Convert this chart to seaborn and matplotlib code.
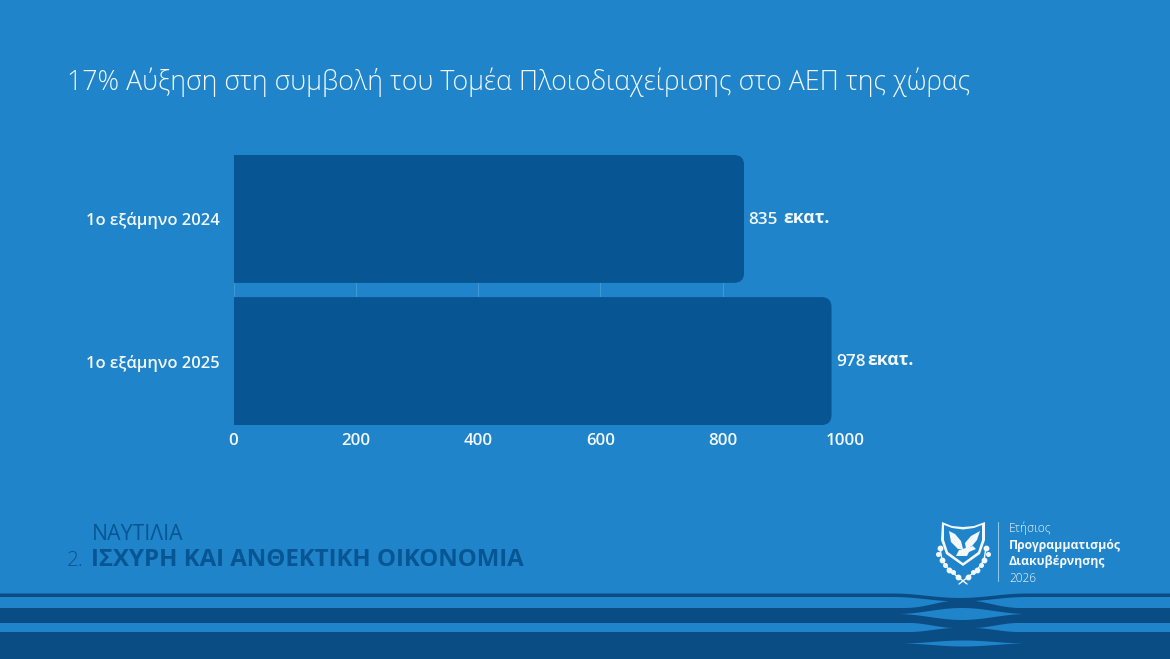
import numpy as np
import pandas as pd
import matplotlib
matplotlib.use('Agg')
import matplotlib.pyplot as plt
from matplotlib.patches import FancyBboxPatch, Polygon
import seaborn as sns

# values
periods = ['1ο εξάμηνο 2024', '1ο εξάμηνο 2025']
values = [835, 978]
x_ticks = [0, 200, 400, 600, 800, 1000]
title = '17% Αύξηση στη συμβολή του Τομέα Πλοιοδιαχείρισης στο ΑΕΠ της χώρας'
unit = 'εκατ.'

BG = '#1f84c9'
BAR = '#075693'
DARK = '#0a4c84'
WHITE = '#f2f8fc'
W, H = 1170, 659

sns.set_theme(style='white')
plt.rcParams['font.family'] = ['Open Sans', 'DejaVu Sans']

fig = plt.figure(figsize=(W / 100, H / 100), dpi=100, facecolor=BG)

# full slide axes in pixel coordinates, for the slide furniture
deco = fig.add_axes([0, 0, 1, 1], zorder=0)
deco.set_xlim(0, W)
deco.set_ylim(H, 0)
deco.axis('off')

deco.text(67, 82, title, color=WHITE, fontsize=19.3, fontweight='light', va='center', ha='left')

# footer heading
deco.text(92, 535, 'ΝΑΥΤΙΛΙΑ', color=BAR, fontsize=15.3, va='center')
deco.text(67, 561, '2.', color=BAR, fontsize=15, fontweight='light', va='center')
deco.text(91, 560.5, 'ΙΣΧΥΡΗ ΚΑΙ ΑΝΘΕΚΤΙΚΗ ΟΙΚΟΝΟΜΙΑ', color=BAR, fontsize=17.3,
          fontweight='bold', va='center')

# ribbons along the bottom
xs = np.linspace(0, W, 1171)


def bump(x0, x1):
    t = np.clip((xs - x0) / (x1 - x0), 0, 1)
    return 0.5 - 0.5 * np.cos(2 * np.pi * t)


def pinch():
    s = np.clip((54 - np.abs(xs - 964)) / 45, 0, 1)
    return s * s * (3 - 2 * s)


line_drop = 4.5 * bump(893, 1027)
deco.fill_between(xs, 593.5 + line_drop, 597 + line_drop, color=DARK, lw=0)
deco.fill_between(xs, 608 - 8 * bump(905, 1020), 623 + 5 * pinch(), color=DARK, lw=0)
deco.fill_between(xs, 632 - 4 * pinch(), H, color=DARK, lw=0)
deco.fill_between(xs, 614 - 6 * bump(897, 1027), 614 + 6 * bump(897, 1027), color=BG, lw=0)
deco.fill_between(xs, 643.5 - 3 * bump(900, 1027), 643.5 + 3 * bump(900, 1027), color=BG, lw=0)

# emblem, much simplified
shield = [(942, 522), (952, 526), (963, 527), (974, 526), (985, 522), (985, 540),
          (980, 554), (963, 566), (946, 554), (941, 540)]
inner = [(944, 525), (952, 528), (963, 529.5), (974, 528), (982, 525), (982, 540),
         (978, 552), (963, 563), (948, 552), (944, 540)]
deco.add_patch(Polygon(shield, closed=True, fc=WHITE, ec='none'))
deco.add_patch(Polygon(inner, closed=True, fc=BG, ec='none'))
wing_l = [(949, 531), (955, 534), (961, 541), (963, 549), (958, 549), (951, 542)]
wing_r = [(980, 531), (977, 540), (972, 546), (966, 549), (965, 543), (971, 536)]
body = [(956, 556), (959, 550), (966, 548), (973, 546), (976, 549), (969, 552), (967, 556)]
for poly in (wing_l, wing_r, body):
    deco.add_patch(Polygon(poly, closed=True, fc=WHITE, ec='none'))
for sign in (-1, 1):
    bx = [963 + sign * 23, 963 + sign * 21, 963 + sign * 14, 963 + sign * 5, 963 - sign * 4]
    by = [548, 560, 570, 577, 584]
    deco.plot(bx, by, color=WHITE, lw=1, solid_capstyle='round')
    deco.plot(bx[:4], by[:4], color=WHITE, lw=0, marker='o', ms=3.2)
    deco.plot([963 + sign * 25, 963 + sign * 18, 963 + sign * 10], [554, 565, 572],
              color=WHITE, lw=0, marker='o', ms=2.6)

deco.plot([998, 998], [522, 581], color='#8ec3e6', lw=0.8)
deco.text(1009, 528, 'Ετήσιος', color=WHITE, fontsize=8.6, fontweight='light', va='center')
deco.text(1009, 545, 'Προγραμματισμός', color=WHITE, fontsize=8.8, fontweight='bold', va='center')
deco.text(1009, 561, 'Διακυβέρνησης', color=WHITE, fontsize=8.8, fontweight='bold', va='center')
deco.text(1009, 578, '2026', color=WHITE, fontsize=8.6, fontweight='light', va='center')

# the chart itself
ax = fig.add_axes([233.5 / W, 1 - 425 / H, 611.5 / W, 270 / H], zorder=1)
ax.patch.set_alpha(0)
df = pd.DataFrame({'period': periods, 'value': values})
sns.barplot(data=df, y='period', x='value', color=BAR, saturation=1, width=0.9, ax=ax, zorder=3,
            linewidth=0, edgecolor='none')

ax.set_xlim(0, 1000)
ax.set_ylim(1.45, -0.45)
ax.set_xticks(x_ticks)
ax.set_xlabel('')
ax.set_ylabel('')
ax.grid(axis='x', color='#5aa5da', lw=0.8, alpha=0.6, zorder=0)
ax.grid(axis='y', visible=False)
ax.set_axisbelow(True)
sns.despine(ax=ax, left=True, bottom=True, top=True, right=True)
ax.tick_params(axis='both', length=0, colors=WHITE)
ax.tick_params(axis='y', pad=10, labelsize=11.9)
ax.tick_params(axis='x', pad=6, labelsize=12.2)
for lab in ax.get_xticklabels() + ax.get_yticklabels():
    lab.set_fontweight('semibold')

# rounded right corners: clip each bar against a rounded box
px_x = 611.5 / 1000
px_y = 270 / 1.9
radius = 10
for bar in ax.patches:
    y0, h = bar.get_y(), bar.get_height()
    clip = FancyBboxPatch((-40, y0), bar.get_width() + 40, h,
                          boxstyle=f'round,pad=0,rounding_size={radius / px_x}',
                          mutation_aspect=(radius / px_y) / (radius / px_x),
                          transform=ax.transData)
    bar.set_clip_path(clip)

for bar, val in zip(ax.patches, values):
    yc = bar.get_y() + bar.get_height() / 2
    ax.annotate(str(val), (val, yc), xytext=(4.5, -1), textcoords='offset pixels',
                color=WHITE, fontsize=12.3, fontweight='semibold', va='center', annotation_clip=False)
    ax.annotate(unit, (val, yc), xytext=(39.5 if val == 835 else 36, 1), textcoords='offset pixels',
                color=WHITE, fontsize=12.8, fontweight='bold', va='center', annotation_clip=False)

fig.savefig('out.png', dpi=100, facecolor=BG)
